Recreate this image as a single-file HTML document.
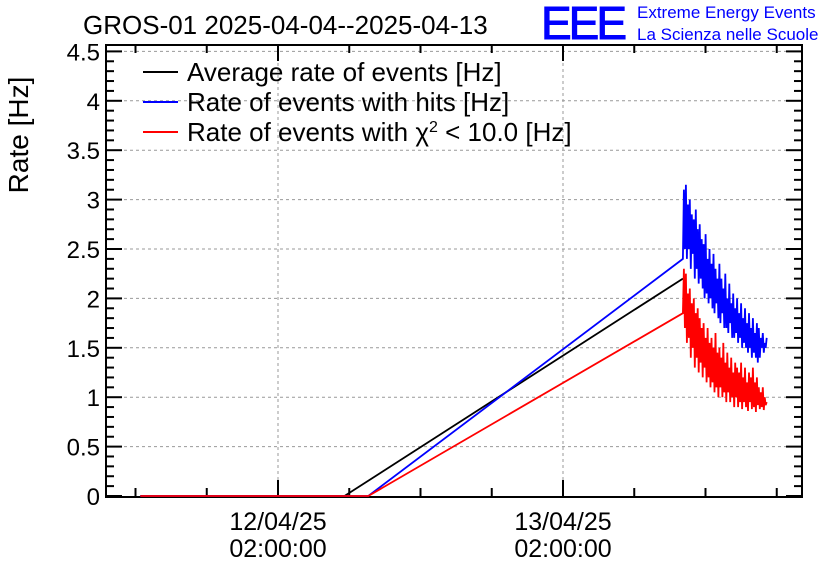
<!DOCTYPE html>
<html><head><meta charset="utf-8"><style>
body{margin:0;background:#fff;}
svg{display:block;font-family:"Liberation Sans",sans-serif;}
</style></head><body>
<svg id="c" width="836" height="572">
<text x="83" y="34" font-size="26">GROS-01 2025-04-04--2025-04-13</text>
<text x="541" y="39" font-size="46" fill="#00f" stroke="#00f" stroke-width="1" letter-spacing="-3">EEE</text>
<text x="637" y="18" font-size="17" fill="#00f">Extreme Energy Events</text>
<text x="637" y="40" font-size="17" fill="#00f">La Scienza nelle Scuole</text>
<text transform="translate(28,135) rotate(-90)" font-size="28" text-anchor="middle">Rate [Hz]</text>
<g id="grid"></g><g id="axes"></g><g id="series"></g>
<g font-size="26">
<line x1="143" y1="72" x2="178" y2="72" stroke="#000" stroke-width="2"/><text x="187" y="81">Average rate of events [Hz]</text>
<line x1="143" y1="102" x2="178" y2="102" stroke="#00f" stroke-width="2"/><text x="187" y="111">Rate of events with hits [Hz]</text>
<line x1="143" y1="132" x2="178" y2="132" stroke="#f00" stroke-width="2"/><text x="187" y="141">Rate of events with χ<tspan dy="-9" font-size="16">2</tspan><tspan dy="9"> &lt; 10.0 [Hz]</tspan></text>
</g>
</svg>
<script>
// hours relative to 12/04/25 02:00:00
const blackT=[-11.6,5.6,34.1];
const blackV=[0,0,2.2];
const lineT=[-11.6,7.6,34.1];
const blueLineV=[0,0,2.4];
const redLineV=[0,0,1.85];
const noisyStart=34.1, noisyStep=0.083;
const blueNoisy=[2.4,3.1,2.5,3.15,2.4,2.95,2.5,3.0,2.3,2.85,2.45,2.8,2.2,2.9,2.3,2.7,2.15,2.75,2.2,2.6,2.1,2.55,2.0,2.65,2.05,2.4,1.95,2.5,2.0,2.35,1.9,2.45,1.85,2.3,1.95,2.2,1.8,2.35,1.75,2.2,1.85,2.1,1.7,2.25,1.7,2.0,1.65,2.15,1.75,1.95,1.6,2.05,1.6,1.9,1.65,2.0,1.55,1.85,1.6,1.95,1.5,1.8,1.55,1.9,1.5,1.75,1.45,1.85,1.5,1.7,1.4,1.8,1.45,1.65,1.4,1.75,1.35,1.7,1.4,1.6,1.5,1.65,1.45,1.55,1.5,1.6];
const redNoisy=[1.85,2.3,1.7,2.25,1.55,2.05,1.6,2.1,1.4,1.95,1.5,2.0,1.3,1.85,1.4,1.9,1.25,1.8,1.35,1.7,1.2,1.75,1.3,1.6,1.15,1.7,1.2,1.55,1.1,1.6,1.15,1.5,1.05,1.65,1.1,1.45,1.0,1.5,1.1,1.4,1.0,1.55,1.05,1.35,0.95,1.45,1.05,1.3,0.95,1.4,1.0,1.25,0.9,1.35,1.0,1.3,0.9,1.25,0.95,1.35,0.88,1.2,0.95,1.3,0.9,1.15,0.86,1.25,0.95,1.2,0.88,1.3,0.9,1.15,0.85,1.2,0.92,1.1,0.88,1.05,0.9,1.1,0.87,1.0,0.92,0.95];
const yTicks=[0,0.5,1,1.5,2,2.5,3,3.5,4,4.5];
const yTickLabels=["0","0.5","1","1.5","2","2.5","3","3.5","4","4.5"];
const xMajor=[0,24];
const xMajorLabels=[["12/04/25","02:00:00"],["13/04/25","02:00:00"]];
const L=106,R=802,T=45,B=496;
const X=h=>278+h*11.875, Y=v=>496-v*98.8;
const NS="http://www.w3.org/2000/svg";
function mk(p,tag,a){const e=document.createElementNS(NS,tag);for(const k in a)e.setAttribute(k,a[k]);p.appendChild(e);return e;}
const grid=document.getElementById('grid'),ax=document.getElementById('axes'),ser=document.getElementById('series');
yTicks.forEach((v,i)=>{
 if(v>0){const g=mk(grid,'line',{x1:L,x2:R,y1:Y(v),y2:Y(v),stroke:'#999','stroke-dasharray':'3,3'});
 
 }
 const t=mk(ax,'text',{x:L-6,y:Y(v)+9,'font-size':24,'text-anchor':'end'});t.textContent=yTickLabels[i];
 
 
});
for(let v=0;v<=4.55;v+=0.1){const big=Math.abs(v/0.5-Math.round(v/0.5))<0.01;const w=big?16:8;
 mk(ax,'line',{x1:L,x2:L+w,y1:Y(v),y2:Y(v),stroke:'#000','stroke-width':2});
 mk(ax,'line',{x1:R,x2:R-w,y1:Y(v),y2:Y(v),stroke:'#000','stroke-width':2});}
xMajor.forEach((h,i)=>{
 const g=mk(grid,'line',{x1:X(h),x2:X(h),y1:T,y2:B,stroke:'#999','stroke-dasharray':'3,3'});
 
 
 xMajorLabels[i].forEach((s,j)=>{const t=mk(ax,'text',{x:X(h),y:530+j*27,'font-size':25,'text-anchor':'middle'});t.textContent=s;
 
 });
});
for(let h=-24;h<=48;h+=6){const x=X(h);if(x<L||x>R)continue;const w=(h%24===0)?16:8;
 mk(ax,'line',{x1:x,x2:x,y1:B,y2:B-w,stroke:'#000','stroke-width':2});
 mk(ax,'line',{x1:x,x2:x,y1:T,y2:T+w,stroke:'#000','stroke-width':2});}
const fr=mk(ax,'rect',{x:L,y:T,width:R-L,height:B-T+1,fill:'none',stroke:'#000','stroke-width':2});


function path(ts,vs,col,name){const d=ts.map((t,i)=>(i?'L':'M')+X(t).toFixed(1)+','+Y(vs[i]).toFixed(1)).join('');
 const p=mk(ser,'path',{d:d,fill:'none',stroke:col,'stroke-width':1.8});
 
 }
path(blackT,blackV,'#000','series-average');
const bt=lineT.concat(blueNoisy.map((v,i)=>noisyStart+i*noisyStep)), bv=blueLineV.concat(blueNoisy);
path(bt,bv,'#00f','series-hits');
const rt=lineT.concat(redNoisy.map((v,i)=>noisyStart+i*noisyStep)), rv=redLineV.concat(redNoisy);
path(rt,rv,'#f00','series-chi2');
</script>
</body></html>
